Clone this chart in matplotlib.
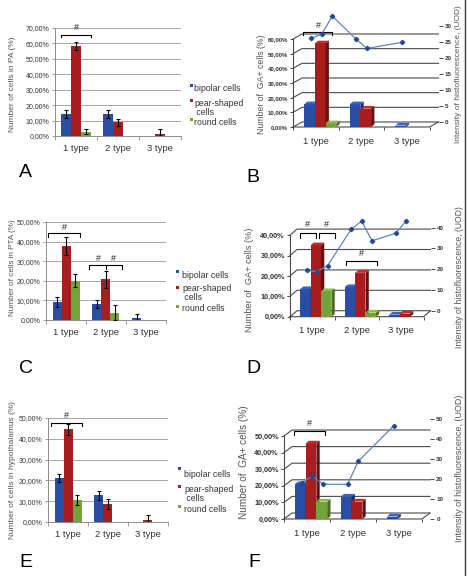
import numpy as np
import matplotlib
matplotlib.use("Agg")
import matplotlib.pyplot as plt
from matplotlib.patches import Polygon, Rectangle
from matplotlib.lines import Line2D

plt.rcParams['font.family'] = ['Liberation Sans', 'DejaVu Sans']
NARROW = ['Liberation Sans Narrow', 'Liberation Sans', 'DejaVu Sans']

W, H = 468, 576
fig = plt.figure(figsize=(W / 100, H / 100), dpi=100)
fig.patch.set_facecolor('white')

nan = np.nan
categories = ["1 type", "2 type", "3 type"]
series_names = ["bipolar cells", "pear-shaped\n cells", "round cells"]
colors = ["#2b4ea5", "#a81e1e", "#74a33a"]
side_colors = ["#1a2f70", "#6a0f0f", "#4a6c20"]
top_colors = ["#3d62c2", "#c42c2c", "#8cbc4c"]

# ---------------- Panel A (PA) ----------------
A_bipolar = [14.3, 14.3, nan]
A_pear = [58.3, 9.0, 1.5]
A_round = [2.8, nan, nan]
A_bipolar_err = [2.5, 2.5, nan]
A_pear_err = [2.4, 2.2, 3.0]
A_round_err = [1.5, nan, nan]

# ---------------- Panel C (PTA) ----------------
C_bipolar = [9.3, 8.1, 0.8]
C_pear = [37.8, 20.7, nan]
C_round = [20.0, 3.7, nan]
C_bipolar_err = [2.6, 2.0, 2.2]
C_pear_err = [4.4, 4.2, nan]
C_round_err = [3.4, 3.7, nan]

# ---------------- Panel E (hypothalamus) ----------------
E_bipolar = [21.2, 12.8, nan]
E_pear = [44.6, 8.5, 0.8]
E_round = [10.7, nan, nan]
E_bipolar_err = [2.0, 2.1, nan]
E_pear_err = [2.7, 2.4, 2.8]
E_round_err = [2.4, nan, nan]

# ---------------- Panel B (GA+ cells, 3D + intensity) ----------------
B_bipolar = [15.5, 15.5, 1.0]
B_pear = [57.0, 12.5, nan]
B_round = [2.5, nan, nan]
B_int_bipolar = [26.2, 25.8, 24.9]
B_int_pear = [27.4, 23.0, nan]
B_int_round = [33.1, nan, nan]

# ---------------- Panel D ----------------
D_bipolar = [13.5, 14.5, 1.0]
D_pear = [35.0, 21.5, 1.5]
D_round = [12.5, 2.0, nan]
D_int_bipolar = [19.5, 39.2, 37.3]
D_int_pear = [18.8, 43.2, 43.2]
D_int_round = [21.7, 33.7, nan]

# ---------------- Panel F ----------------
F_bipolar = [21.0, 13.5, 1.5]
F_pear = [45.5, 10.5, nan]
F_round = [10.5, nan, nan]
F_int_bipolar = [18.2, 17.3, 46.5]
F_int_pear = [21.4, 28.9, nan]
F_int_round = [17.3, nan, nan]


def add_axes_px(l, t, r, b):
    return fig.add_axes([l / W, 1 - b / H, (r - l) / W, (b - t) / H])


def pct(v):
    return f"{v:.2f}".replace('.', ',') + '%'


def fig_text(x, y, s, **kw):
    return fig.text(x / W, 1 - y / H, s, **kw)


def legend_px(entries):
    # entries: list of (marker_x, marker_y, text_x, text_top)
    for i, (mx, my, tx, ty) in enumerate(entries):
        fig.add_artist(Rectangle((mx / W, 1 - (my + 3) / H), 3 / W, 3 / H,
                                 transform=fig.transFigure, color=colors[i], lw=0))
        fig_text(tx, ty, series_names[i], fontsize=6.3, va='top', ha='left',
                 color='#333333', linespacing=0.95)


def bracket(ax, x0, x1, y, d, marks, mids=()):
    ax.plot([x0, x0, x1, x1], [y - d, y, y, y - d], color='black', lw=0.8,
            clip_on=False, zorder=10)
    for xm in mids:
        ax.plot([xm, xm], [y, y - d], color='black', lw=0.8, clip_on=False, zorder=10)
    for (xm, ym) in marks:
        ax.text(xm, ym, '#', fontsize=6.5, ha='center', va='center', color='#222222')


def panel2d(box, ymax, vals, errs, width, ylabel, ylabel_xy, ylabel_fs):
    l, t, r, b = box
    ax = add_axes_px(l, t, r, b)
    x = np.arange(len(categories))
    for i in range(3):
        v = np.asarray(vals[i], float)
        e = np.asarray(errs[i], float)
        ax.bar(x + (i - 1) * width, v, width, color=colors[i], zorder=3)
        ax.errorbar(x + (i - 1) * width, v, yerr=e, fmt='none', ecolor='black',
                    elinewidth=0.8, capsize=1.6, capthick=0.8, zorder=4)
    ax.set_xlim(-0.5, 2.5)
    ax.set_ylim(0, ymax)
    ticks = np.arange(0, ymax + 0.01, 10)
    ax.set_yticks(ticks)
    ax.set_yticklabels([pct(v) for v in ticks], fontfamily=NARROW, fontsize=5.0,
                       color='#333333')
    ax.yaxis.grid(True, color='#a6a6a6', lw=0.7)
    ax.set_axisbelow(True)
    for s in ['top', 'right']:
        ax.spines[s].set_visible(False)
    for s in ['left', 'bottom']:
        ax.spines[s].set_color('#8c8c8c')
        ax.spines[s].set_linewidth(0.7)
    ax.tick_params(axis='y', length=2.5, width=0.6, color='#8c8c8c', pad=1.5)
    ax.set_xticks(x)
    ax.set_xticklabels(categories, fontsize=6.8, color='#333333')
    ax.set_xticks([-0.5, 0.5, 1.5, 2.5], minor=True)
    ax.tick_params(axis='x', which='major', length=0, pad=6)
    ax.tick_params(axis='x', which='minor', length=3, width=0.6, color='#8c8c8c')
    fig_text(ylabel_xy[0], ylabel_xy[1], ylabel, rotation=90, ha='center', va='center',
             fontsize=ylabel_fs, color='#555555')
    return ax


def panel3d(left_px, cat_px, dx_px, dy_px, zero_px, px_per, rzero_px, rpx_per,
            top_px, left_ticks, right_ticks, vals, ivals, ylabel_xy, ylabel_fs,
            rlabel_xy, rlabel_fs, tick_fs):
    ddx = dx_px / cat_px
    ddy = dy_px / px_per
    right_px = left_px + (3 + ddx) * cat_px
    bottom_px = zero_px
    ax = add_axes_px(left_px, top_px, right_px, bottom_px)
    ax.set_xlim(-0.5, 2.5 + ddx)
    ax.set_ylim((zero_px - bottom_px) / px_per, (zero_px - top_px) / px_per)
    for s in ax.spines.values():
        s.set_visible(False)
    ax.patch.set_alpha(0)
    gc = '#4a4a4a'
    for v in left_ticks:
        ax.plot([-0.5, -0.5 + ddx, 2.5 + ddx], [v, v + ddy, v + ddy], color=gc,
                lw=0.8, zorder=1, clip_on=False)
    ax.plot([-0.5, 2.5, 2.5 + ddx], [0, 0, ddy], color=gc, lw=0.8, zorder=1, clip_on=False)
    ax.plot([-0.5, -0.5], [0, left_ticks[-1]], color=gc, lw=0.8, zorder=1, clip_on=False)
    ax.set_yticks(left_ticks)
    ax.set_yticklabels([pct(v) for v in left_ticks], fontfamily=NARROW, fontsize=tick_fs,
                       fontweight='bold', color='#333333')
    ax.tick_params(axis='y', length=2.5, width=0.7, color=gc, pad=1.2)
    x = np.arange(3)
    ax.set_xticks(x)
    ax.set_xticklabels(categories, fontsize=6.8, color='#333333')
    ax.set_xticks([-0.5, 0.5, 1.5, 2.5], minor=True)
    ax.tick_params(axis='x', which='major', length=0, pad=7)
    ax.tick_params(axis='x', which='minor', length=2.5, width=0.7, color=gc)

    w = 0.235
    shift = ddx * 0.5
    bdx = 3.3 / cat_px
    bdy = 2.7 / px_per
    k = 0
    line_x, line_y = [], []
    for c in range(3):
        for i in range(3):
            v = vals[i][c]
            if np.isnan(v):
                continue
            x0 = c + (i - 1) * w - w / 2 + shift
            z = 3 + 0.01 * k
            ax.bar(x0 + w / 2, v, w, color=colors[i], zorder=z, lw=0)
            ax.add_patch(Polygon([(x0 + w, 0), (x0 + w, v), (x0 + w + bdx, v + bdy),
                                  (x0 + w + bdx, bdy)], closed=True,
                                 facecolor=side_colors[i], lw=0, zorder=z))
            ax.add_patch(Polygon([(x0, v), (x0 + bdx, v + bdy), (x0 + w + bdx, v + bdy),
                                  (x0 + w, v)], closed=True,
                                 facecolor=top_colors[i], lw=0, zorder=z))
            k += 1
    for c in range(3):
        for i in range(3):
            iv = ivals[i][c]
            if np.isnan(iv):
                continue
            line_x.append(c + (i - 1) * w + shift + 0.03)
            line_y.append(iv)

    ax2 = ax.twinx()
    ax2.set_ylim((rzero_px - bottom_px) / rpx_per, (rzero_px - top_px) / rpx_per)
    for s in ax2.spines.values():
        s.set_visible(False)
    ax2.set_yticks(right_ticks)
    ax2.set_yticklabels([str(v) for v in right_ticks], fontsize=4.5, fontweight='bold',
                        color='#333333')
    ax2.tick_params(axis='y', length=3, width=0.7, color=gc, pad=1.5)
    ax2.plot(line_x, line_y, color='#5a86c0', lw=0.9, marker='D', markersize=2.2,
             markerfacecolor='#1f4a96', markeredgecolor='#1f4a96', clip_on=False, zorder=20)
    fig_text(ylabel_xy[0], ylabel_xy[1], "Number of  GA+ cells (%)", rotation=90,
             ha='center', va='center', fontsize=ylabel_fs, color='#555555')
    fig_text(rlabel_xy[0], rlabel_xy[1], "Intensity of histofluorescence, (UOD)",
             rotation=90, ha='center', va='center', fontsize=rlabel_fs, color='#555555')
    return ax


# ---- Panel A ----
axA = panel2d((55, 28, 181, 136), 70,
              [A_bipolar, A_pear, A_round], [A_bipolar_err, A_pear_err, A_round_err],
              0.24, "Number of cells in PA (%)", (13, 84), 6.0)
bracket(axA, -0.36, 0.36, 65.5, 1.5, [(0.0, 70.5)])
legend_px([(190, 84, 194, 84), (190, 99, 194, 99), (190, 118, 194, 118)])
fig_text(19, 177, "A", fontsize=14, va='baseline')

# ---- Panel C ----
axC = panel2d((46, 222, 166, 320), 50,
              [C_bipolar, C_pear, C_round], [C_bipolar_err, C_pear_err, C_round_err],
              0.225, "Number of cells in PTA (%)", (13, 268), 5.9)
bracket(axC, -0.45, 0.35, 44.4, 1.8, [(-0.05, 47.3)])
bracket(axC, 0.58, 1.4, 28.0, 1.8, [(0.8, 31.6), (1.18, 31.6)], mids=[1.0])
legend_px([(176, 270, 182, 271), (176, 286, 182, 284), (176, 305, 182, 304)])
fig_text(19, 373, "C", fontsize=14, va='baseline')

# ---- Panel E ----
axE = panel2d((48, 418, 168, 522), 50,
              [E_bipolar, E_pear, E_round], [E_bipolar_err, E_pear_err, E_round_err],
              0.225, "Number of cells in hypothalamus (%)", (13, 470), 6.0)
bracket(axE, -0.42, 0.35, 47.6, 1.6, [(-0.03, 51.4)])
legend_px([(178, 467, 184, 470), (178, 485, 184, 485), (178, 505, 184, 505)])
fig_text(19, 567, "E", fontsize=14, va='baseline')

# ---- Panel B ----
axB = panel3d(293, 45.5, 9, 5, 127, 1.467, 122, 3.2, 10,
              [0, 10, 20, 30, 40, 50, 60], [0, 5, 10, 15, 20, 25, 30],
              [B_bipolar, B_pear, B_round], [B_int_bipolar, B_int_pear, B_int_round],
              (261, 84), 6.3, (459, 74), 6.0, 4.3)
bracket(axB, -0.29, 0.35, 64.8, 2.0, [(0.05, 69.5)])
fig_text(246, 182, "B", fontsize=14, va='baseline')

# ---- Panel D ----
axD = panel3d(290, 44.5, 7, 6, 316.7, 2.04, 310.7, 2.075, 200,
              [0, 10, 20, 30, 40], [0, 10, 20, 30, 40],
              [D_bipolar, D_pear, D_round], [D_int_bipolar, D_int_pear, D_int_round],
              (249, 280), 6.6, (459, 277), 6.2, 5.2)
bracket(axD, -0.28, 0.08, 40.8, 2.2, [(-0.1, 45.0)])
bracket(axD, 0.15, 0.5, 40.8, 2.2, [(0.33, 45.0)])
bracket(axD, 0.75, 1.46, 27.5, 2.2, [(1.1, 31.0)])
fig_text(246, 373, "D", fontsize=14, va='baseline')

# ---- Panel F ----
axF = panel3d(284, 46, 8, 6, 519, 1.66, 520, 2.02, 400,
              [0, 10, 20, 30, 40, 50], [0, 10, 20, 30, 40, 50],
              [F_bipolar, F_pear, F_round], [F_int_bipolar, F_int_pear, F_int_round],
              (244, 462), 7.2, (459, 468), 6.5, 5.2)
bracket(axF, -0.29, 0.4, 53.2, 2.4, [(0.05, 57.6)])
fig_text(248, 567, "F", fontsize=14, va='baseline')

fig.add_artist(Line2D([465 / W, 465 / W], [0, 1], color='#3a3a3a', lw=1.0,
                      transform=fig.transFigure))

fig.savefig("out.png", dpi=100, facecolor='white')
